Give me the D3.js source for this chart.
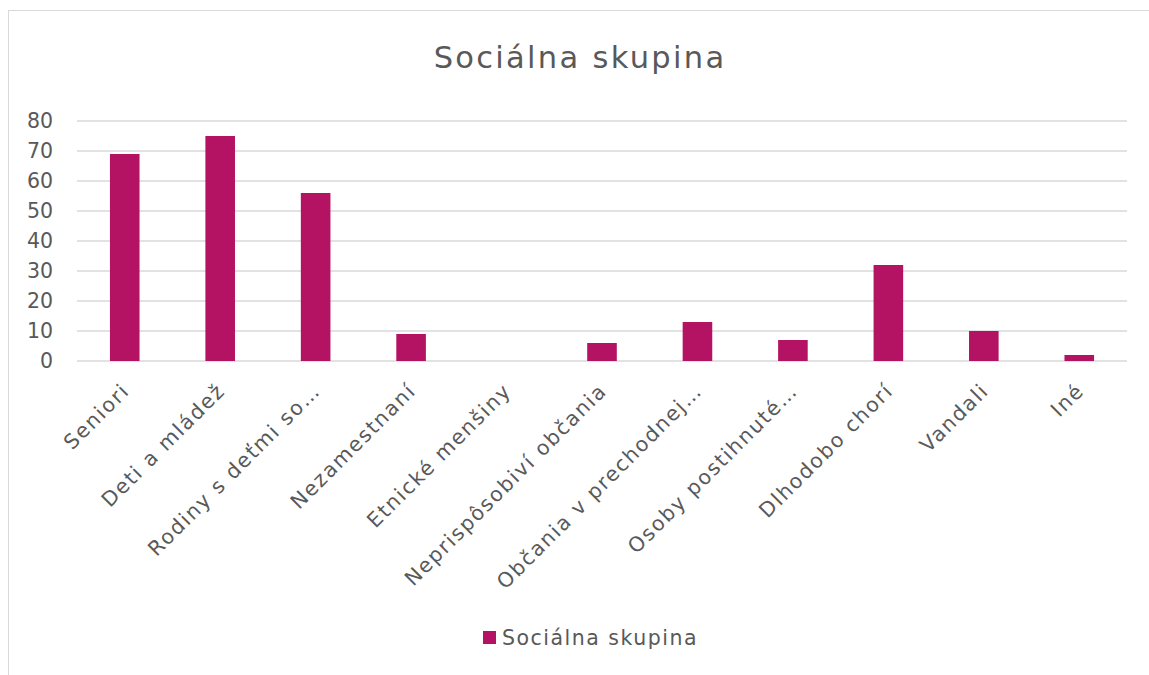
<!DOCTYPE html>
<html>
<head>
<meta charset="utf-8">
<script src="https://cdn.jsdelivr.net/npm/d3@7"></script>
<style>
  body { margin: 0; background: #fff; }
  text { font-family: "DejaVu Sans", sans-serif; fill: #595959; }
</style>
</head>
<body>
<svg width="1149" height="675"></svg>
<script>
var categories = ["Seniori", "Deti a mládež", "Rodiny s deťmi so…", "Nezamestnaní",
  "Etnické menšiny", "Neprispôsobiví občania", "Občania v prechodnej…",
  "Osoby postihnuté…", "Dlhodobo chorí", "Vandali", "Iné"];
var values = [69, 75, 56, 9, 0, 6, 13, 7, 32, 10, 2];
var yTicks = [0, 10, 20, 30, 40, 50, 60, 70, 80];
var seriesName = "Sociálna skupina";
var barColor = "#b41263";

var svg = d3.select("svg"),
  width = +svg.attr("width"),
  height = +svg.attr("height");

// chart area border
svg.append("rect")
  .attr("x", 8.5).attr("y", 10.5)
  .attr("width", width).attr("height", height)
  .style("fill", "none")
  .style("stroke", "#d9d9d9");

var x = d3.scaleBand()
  .domain(categories)
  .range([77, 1127])
  .paddingInner(0.69)
  .paddingOuter(0.345);

var y = d3.scaleLinear()
  .domain([0, 80])
  .range([361, 121]);

// gridlines
svg.append("g")
  .selectAll("line")
  .data(yTicks)
  .enter().append("line")
  .attr("x1", 77).attr("x2", 1127)
  .attr("y1", function(d) { return y(d); })
  .attr("y2", function(d) { return y(d); })
  .attr("stroke", "#d9d9d9")
  .attr("stroke-width", 1.3);

// y labels
svg.append("g")
  .selectAll("text")
  .data(yTicks)
  .enter().append("text")
  .attr("x", 53)
  .attr("y", function(d) { return y(d); })
  .attr("dy", "0.36em")
  .attr("text-anchor", "end")
  .style("font-size", "20.5px")
  .text(function(d) { return d; });

// bars
svg.append("g")
  .selectAll("rect")
  .data(values)
  .enter().append("rect")
  .attr("x", function(d, i) { return x(categories[i]); })
  .attr("width", x.bandwidth())
  .attr("y", function(d) { return y(d); })
  .attr("height", function(d) { return y(0) - y(d); })
  .attr("fill", barColor);

// category labels
svg.append("g")
  .selectAll("text")
  .data(categories)
  .enter().append("text")
  .attr("transform", function(d) {
    var cx = x(d) + x.bandwidth() / 2;
    return "translate(" + (cx + 1) + "," + 387 + ")rotate(-45)";
  })
  .attr("text-anchor", "end")
  .attr("dy", "0.35em")
  .style("font-size", "20.5px")
  .style("letter-spacing", "1.7px")
  .text(function(d) { return d; });

// title
svg.append("text")
  .attr("x", 580)
  .attr("y", 68)
  .attr("text-anchor", "middle")
  .style("font-size", "30.5px")
  .style("letter-spacing", "2.3px")
  .text(seriesName);

// legend
svg.append("rect")
  .attr("x", 483).attr("y", 631)
  .attr("width", 13).attr("height", 13)
  .attr("fill", barColor);
svg.append("text")
  .attr("x", 502)
  .attr("y", 645)
  .style("font-size", "20.5px")
  .style("letter-spacing", "1.5px")
  .text(seriesName);
</script>
</body>
</html>
